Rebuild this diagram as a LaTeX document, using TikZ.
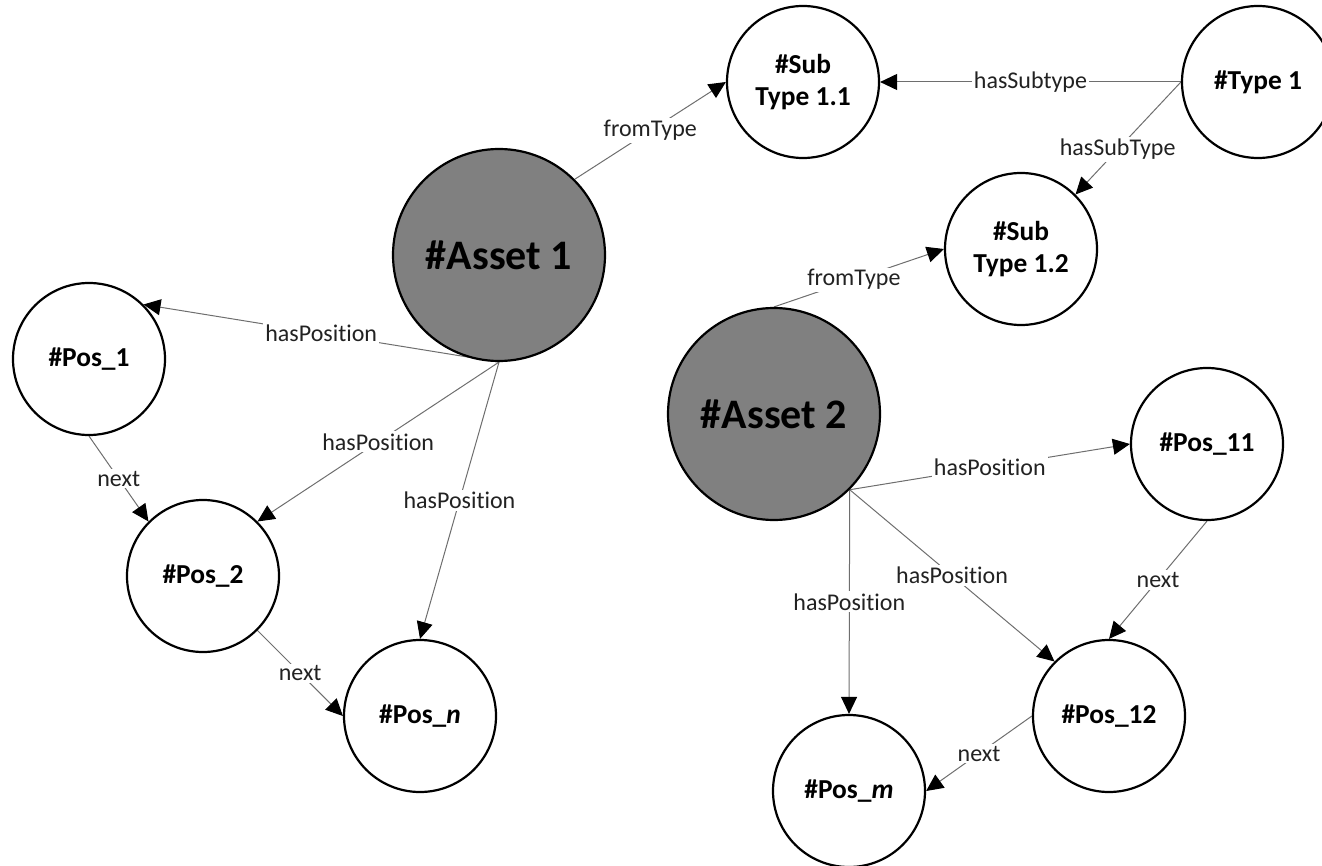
\documentclass[tikz,border=0pt]{standalone}
\usepackage{fontspec}
\setmainfont{Carlito}[Ligatures=NoCommon]
\usetikzlibrary{arrows.meta}
\pgfdeclarelayer{edges}
\pgfsetlayers{edges,main}
\definecolor{assetgray}{HTML}{808080}
\definecolor{linegray}{HTML}{6E6E6E}
\definecolor{labeltext}{HTML}{222222}

\begin{document}
\begin{tikzpicture}[x=0.5pt,y=-0.5pt,
  entity/.style={circle, draw=black, line width=1.1pt, fill=white,
    minimum size=76pt, inner sep=0pt, align=center,
    font=\fontsize{13.7}{16.4}\selectfont\bfseries},
  asset/.style={entity, fill=assetgray, minimum size=106pt,
    font=\fontsize{21}{25}\selectfont\bfseries},
  rel/.style={draw=linegray, line width=0.5pt,
    -{Triangle[length=8.5pt,width=8pt,color=black]}},
  lbl/.style={fill=white, inner sep=1pt, text=labeltext,
    font=\fontsize{12}{14}\selectfont}
]
\useasboundingbox (0,0) rectangle (1322,866);
\clip (0,0) rectangle (1322,866);

% classes
\node[entity] (st11) at (803,82)   {\#Sub\\Type 1.1};
\node[entity] (t1)   at (1258,82)  {\#Type 1};
\node[entity] (st12) at (1021,249) {\#Sub\\Type 1.2};

% assets
\node[asset] (a1) at (499,255) {\#Asset 1};
\node[asset] (a2) at (774,414) {\#Asset 2};

% positions
\node[entity] (p1)  at (89,359)   {\#Pos\_1};
\node[entity] (p2)  at (203,576)  {\#Pos\_2};
\node[entity] (pn)  at (420,716)  {\#Pos\_\textit{n}};
\node[entity] (p11) at (1207,444) {\#Pos\_11};
\node[entity] (p12) at (1109,716) {\#Pos\_12};
\node[entity] (pm)  at (849,791)  {\#Pos\_\textit{m}};

\begin{pgfonlayer}{edges}
  % type hierarchy
  \draw[rel] (a1.north east) -- node[lbl]{fromType} (st11.west);
  \draw[rel] (t1.west) -- node[lbl]{hasSubtype} (st11.east);
  \draw[rel] (t1.west) -- node[lbl,pos=0.6]{hasSubType} (st12.north east);
  \draw[rel] (a2.north) -- node[lbl,pos=0.47]{fromType} (st12.west);

  % positions of asset 1
  \draw[rel] (a1.south) -- node[lbl]{hasPosition} (p1.north east);
  \draw[rel] (a1.south) -- node[lbl]{hasPosition} (p2.north east);
  \draw[rel] (a1.south) -- node[lbl]{hasPosition} (pn.north);
  \draw[rel] (p1.south) -- node[lbl]{next} (p2.north west);
  \draw[rel] (p2.south east) -- node[lbl]{next} (pn.west);

  % positions of asset 2
  \draw[rel] (a2.south east) -- node[lbl]{hasPosition} (p11.west);
  \draw[rel] (a2.south east) -- node[lbl]{hasPosition} (p12.north west);
  \draw[rel] (a2.south east) -- node[lbl]{hasPosition} (pm.north);
  \draw[rel] (p11.south) -- node[lbl]{next} (p12.north);
  \draw[rel] (p12.west) -- node[lbl]{next} (pm.east);
\end{pgfonlayer}
\end{tikzpicture}
\end{document}
